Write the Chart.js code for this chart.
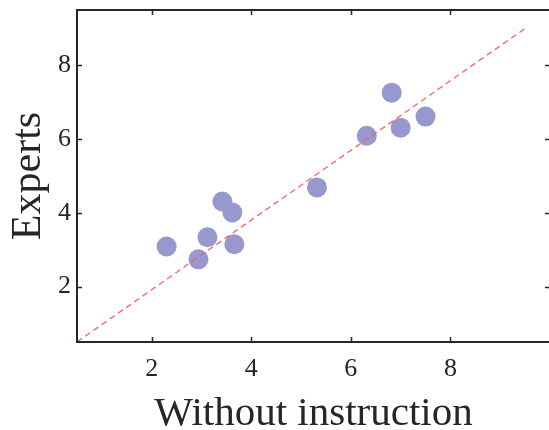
<!DOCTYPE html>
<html>
<head>
<meta charset="utf-8">
<script src="https://cdn.jsdelivr.net/npm/chart.js@4.4.0/dist/chart.umd.min.js"></script>
<style>
  html, body { margin: 0; padding: 0; background: #fff; overflow: hidden; }
  canvas { display: block; }
</style>
</head>
<body>
<canvas id="myChart" width="560" height="440"></canvas>
<script>
// values
var withoutInstruction = [2.3, 2.94, 3.12, 3.42, 3.62, 3.66, 5.32, 6.32, 6.82, 7.0, 7.5];
var experts = [3.09, 2.74, 3.34, 4.31, 4.01, 3.15, 4.69, 6.09, 7.26, 6.31, 6.61];
// dashed fit line, start and end
var fitX = [0.5, 9.5];
var fitY = [0.5, 9.0];
var xTicks = [2, 4, 6, 8];
var yTicks = [2, 4, 6, 8];

var ink = '#262626';
var serif = "'Liberation Serif', 'Times New Roman', serif";

var points = withoutInstruction.map(function (x, i) { return {x: x, y: experts[i]}; });
var fitLine = fitX.map(function (x, i) { return {x: x, y: fitY[i]}; });

// box round the plot with ticks pointing in, like matlab
var boxPlugin = {
  id: 'box',
  afterDatasetsDraw: function (chart) {
    var ctx = chart.ctx;
    var a = chart.chartArea;
    var xs = chart.scales.x, ys = chart.scales.y;
    var len = 5;
    ctx.save();
    ctx.strokeStyle = ink;
    ctx.lineWidth = 1.5;
    xs.ticks.forEach(function (t) {
      var px = Math.round(xs.getPixelForValue(t.value)) + 0.5;
      ctx.beginPath();
      ctx.moveTo(px, a.bottom); ctx.lineTo(px, a.bottom - len);
      ctx.moveTo(px, a.top); ctx.lineTo(px, a.top + len);
      ctx.stroke();
    });
    ys.ticks.forEach(function (t) {
      var py = Math.round(ys.getPixelForValue(t.value)) + 0.5;
      ctx.beginPath();
      ctx.moveTo(a.left, py); ctx.lineTo(a.left + len, py);
      ctx.moveTo(a.right, py); ctx.lineTo(a.right - len, py);
      ctx.stroke();
    });
    ctx.lineWidth = 2;
    ctx.strokeRect(a.left, a.top, a.right - a.left, a.bottom - a.top);
    ctx.restore();
  }
};

var ctx = document.getElementById('myChart');
var myChart = new Chart(ctx, {
  type: 'scatter',
  data: {
    datasets: [
      {
        type: 'line',
        label: 'fit',
        data: fitLine,
        borderColor: 'rgba(255,90,90,0.95)',
        borderWidth: 1.3,
        borderDash: [6, 4],
        pointRadius: 0,
        fill: false
      },
      {
        label: 'Experts',
        data: points,
        backgroundColor: 'rgb(150,152,206)',
        borderWidth: 0,
        pointRadius: 10
      }
    ]
  },
  options: {
    responsive: false,
    animation: false,
    layout: { padding: { top: 10, right: 8, left: 0, bottom: 0 } },
    plugins: { legend: { display: false }, tooltip: { enabled: false } },
    scales: {
      x: {
        type: 'linear',
        min: 0.5,
        max: 10,
        afterBuildTicks: function (scale) { scale.ticks = xTicks.map(function (v) { return {value: v}; }); },
        afterFit: function (scale) { scale.height = 98; scale.paddingLeft = 0; scale.paddingRight = 0; },
        grid: { display: false, drawTicks: false },
        border: { display: false },
        ticks: { color: ink, padding: 12, font: { family: serif, size: 26 } },
        title: {
          display: true,
          text: 'Without instruction',
          color: ink,
          padding: { top: 0, bottom: 1 },
          font: { family: serif, size: 41 }
        }
      },
      y: {
        type: 'linear',
        min: 0.5,
        max: 9.5,
        afterBuildTicks: function (scale) { scale.ticks = yTicks.map(function (v) { return {value: v}; }); },
        afterFit: function (scale) { scale.width = 77; scale.paddingTop = 0; scale.paddingBottom = 0; },
        grid: { display: false, drawTicks: false },
        border: { display: false },
        ticks: { color: ink, padding: 6, font: { family: serif, size: 26 } },
        title: {
          display: true,
          text: 'Experts',
          color: ink,
          padding: { top: 4, bottom: 0 },
          font: { family: serif, size: 42 }
        }
      }
    }
  },
  plugins: [boxPlugin]
});
</script>
</body>
</html>
